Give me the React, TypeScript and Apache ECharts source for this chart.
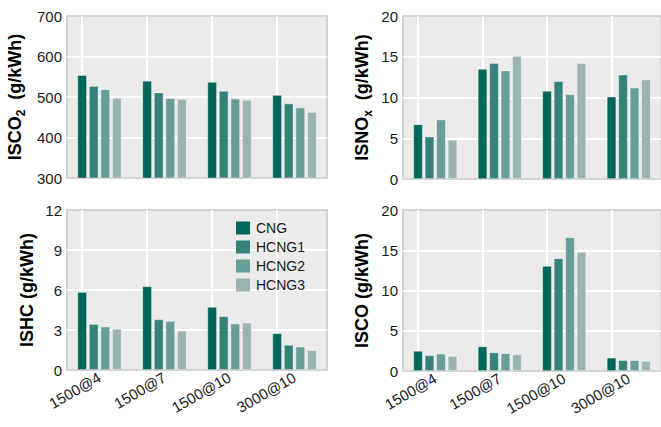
import React, { useEffect, useRef } from "react";
import * as echarts from "echarts";

const categories = ["1500@4", "1500@7", "1500@10", "3000@10"];
const fuels = ["CNG", "HCNG1", "HCNG2", "HCNG3"];
const fuelColors = ["#00665C", "#36827B", "#679E98", "#9AB4B2"];

// ISCO2 (g/kWh) per fuel, per category
const isco2CNG = [554, 540, 537, 505];
const isco2HCNG1 = [527, 511, 515, 484];
const isco2HCNG2 = [519, 497, 496, 474];
const isco2HCNG3 = [498, 495, 493, 463];

// ISNOx (g/kWh)
const isnoxCNG = [6.7, 13.5, 10.8, 10.1];
const isnoxHCNG1 = [5.2, 14.2, 12.0, 12.8];
const isnoxHCNG2 = [7.3, 13.3, 10.4, 11.2];
const isnoxHCNG3 = [4.8, 15.1, 14.2, 12.2];

// ISHC (g/kWh)
const ishcCNG = [5.85, 6.28, 4.73, 2.75];
const ishcHCNG1 = [3.45, 3.8, 4.03, 1.88];
const ishcHCNG2 = [3.25, 3.68, 3.48, 1.75];
const ishcHCNG3 = [3.08, 2.95, 3.55, 1.48];

// ISCO (g/kWh)
const iscoCNG = [2.5, 3.05, 13.05, 1.65];
const iscoHCNG1 = [1.95, 2.3, 14.0, 1.35];
const iscoHCNG2 = [2.15, 2.2, 16.6, 1.35];
const iscoHCNG3 = [1.85, 2.05, 14.8, 1.25];

const yMins = [300, 0, 0, 0];
const yMaxs = [700, 20, 12, 20];
const yIntervals = [100, 5, 3, 5];

const FONT = "'Liberation Sans', Arial, Helvetica, sans-serif";

export default function App() {
  const ref = useRef<HTMLDivElement>(null);
  useEffect(() => {
    if (!ref.current) return;
    const chart = echarts.init(ref.current, null, { renderer: "svg" });

    const panelData = [
      [isco2CNG, isco2HCNG1, isco2HCNG2, isco2HCNG3],
      [isnoxCNG, isnoxHCNG1, isnoxHCNG2, isnoxHCNG3],
      [ishcCNG, ishcHCNG1, ishcHCNG2, ishcHCNG3],
      [iscoCNG, iscoHCNG1, iscoHCNG2, iscoHCNG3],
    ];
    const names = [
      "{b|ISCO}{s|2}{b|  (g/kWh)}",
      "{b|ISNO}{s|x}{b|  (g/kWh)}",
      "{b|ISHC (g/kWh)}",
      "{b|ISCO (g/kWh)}",
    ];
    const nameGaps = [40, 29, 28, 29];
    const grids = [
      { left: 67, top: 16, width: 260, height: 162 },
      { left: 403, top: 16, width: 260, height: 163 },
      { left: 67, top: 210, width: 260, height: 160 },
      { left: 403, top: 210, width: 260, height: 161 },
    ];

    const rich = {
      b: { fontFamily: FONT, fontWeight: "bold", fontSize: 18, color: "#000", lineHeight: 24 },
      s: { fontFamily: FONT, fontWeight: "bold", fontSize: 12, color: "#000", lineHeight: 9, verticalAlign: "bottom" },
    };

    const series: any[] = [];
    panelData.forEach((pd, g) => {
      pd.forEach((vals, f) => {
        const s: any = {
          type: "bar",
          name: fuels[f],
          xAxisIndex: g,
          yAxisIndex: g,
          data: vals,
          barGap: "22%",
          barCategoryGap: "32%",
          itemStyle: { color: fuelColors[f], borderColor: "rgba(255,255,255,0.55)", borderWidth: 0.7 },
          emphasis: { disabled: true },
        };
        if (f === 0) {
          s.markLine = {
            silent: true,
            symbol: "none",
            z: 1,
            label: { show: false },
            lineStyle: { color: "#FFFFFF", width: 2, type: "solid" },
            data: categories.map((c) => ({ xAxis: c })),
          };
        }
        series.push(s);
      });
    });

    chart.setOption({
      animation: false,
      textStyle: { fontFamily: FONT },
      legend: {
        data: fuels,
        orient: "vertical",
        left: 231,
        top: 216,
        itemWidth: 14,
        itemHeight: 13,
        itemGap: 5,
        icon: "rect",
        itemStyle: { borderWidth: 0 },
        textStyle: { fontFamily: FONT, fontSize: 14, color: "#1A1A1A", padding: [0, 0, 0, 1] },
      },
      grid: grids.map((gr) => ({
        ...gr,
        show: true,
        backgroundColor: "#EBEBEB",
        borderColor: "#D4D4D4",
        borderWidth: 2,
      })),
      xAxis: grids.map((_, g) => ({
        type: "category",
        gridIndex: g,
        data: categories,
        axisLine: { show: false },
        axisTick: { show: false },
        splitLine: { show: false },
        axisLabel: {
          show: g >= 2,
          rotate: 30,
          fontSize: 15,
          color: "#1A1A1A",
          fontFamily: FONT,
          margin: 6,
          interval: 0,
        },
      })),
      yAxis: grids.map((_, g) => ({
        type: "value",
        gridIndex: g,
        min: yMins[g],
        max: yMaxs[g],
        interval: yIntervals[g],
        name: names[g],
        nameLocation: "middle",
        nameGap: nameGaps[g],
        nameTextStyle: { rich },
        axisLine: { show: false },
        axisTick: { show: false },
        axisLabel: { fontSize: 15, color: "#1A1A1A", fontFamily: FONT, margin: 5 },
        splitLine: { show: true, showMinLine: false, showMaxLine: false, lineStyle: { color: "#FFFFFF", width: 2 } },
      })),
      series,
    });
    return () => chart.dispose();
  }, []);
  return (
    <div
      ref={ref}
      style={{ position: "absolute", left: 0, top: 0, width: 661, height: 427 }}
    />
  );
}
